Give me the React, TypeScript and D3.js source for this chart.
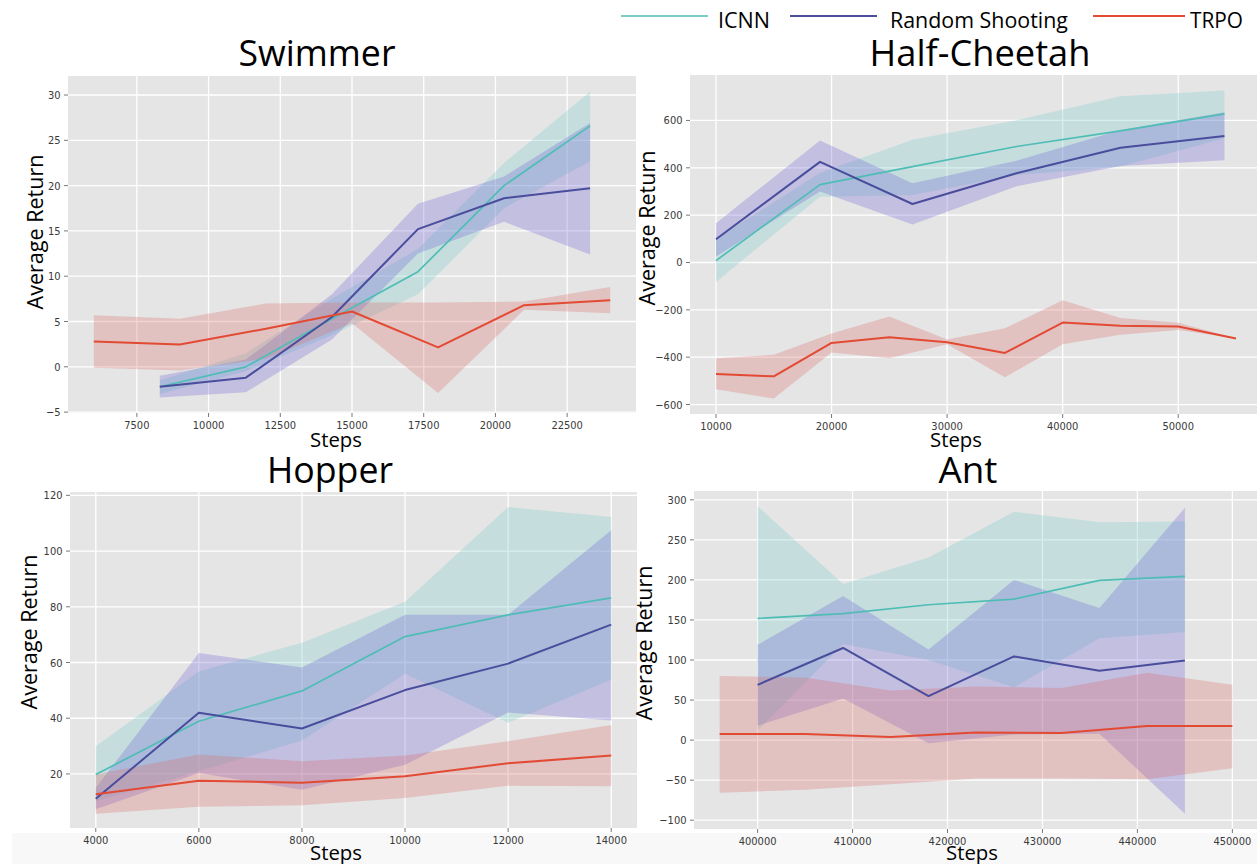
import React from 'react';
import * as d3 from 'd3';

// ---------------- DATA ----------------
const methods = ['ICNN', 'Random Shooting', 'TRPO'];

// Swimmer
const swStepsA = [8300, 11300, 14300, 17300, 20300, 23300];
const swIcnnMean = [-2.2, 0.0, 5.3, 10.5, 20.0, 26.6];
const swIcnnUpper = [-1.5, 1.5, 7.5, 13.0, 22.5, 30.4];
const swIcnnLower = [-3.0, -0.5, 3.5, 8.0, 17.5, 22.7];
const swRsMean = [-2.2, -1.2, 5.5, 15.2, 18.6, 19.7];
const swRsUpper = [-1.0, 0.8, 8.0, 18.0, 21.0, 26.9];
const swRsLower = [-3.4, -2.8, 3.0, 12.5, 16.0, 12.4];
const swStepsT = [6000, 9000, 12000, 15000, 18000, 21000, 24000];
const swTrpoMean = [2.8, 2.45, 4.2, 6.1, 2.15, 6.8, 7.35];
const swTrpoUpper = [5.7, 5.3, 7.0, 7.1, 7.1, 7.2, 8.8];
const swTrpoLower = [-0.1, -0.4, 0.9, 4.8, -2.9, 6.3, 5.9];
const swXTicks = [7500, 10000, 12500, 15000, 17500, 20000, 22500];
const swYTicks = [-5, 0, 5, 10, 15, 20, 25, 30];

// Half-Cheetah
const hcStepsA = [10000, 19000, 27000, 36000, 45000, 54000];
const hcIcnnMean = [8, 329, 405, 490, 556, 628];
const hcIcnnUpper = [100, 378, 519, 601, 702, 727];
const hcIcnnLower = [-82, 278, 285, 370, 405, 525];
const hcRsMean = [98, 425, 247, 377, 485, 534];
const hcRsUpper = [166, 515, 335, 430, 560, 635];
const hcRsLower = [25, 300, 160, 322, 408, 432];
const hcStepsT = [10000, 15000, 20000, 25000, 30000, 35000, 40000, 45000, 50000, 55000];
const hcTrpoMean = [-471, -481, -340, -316, -337, -382, -254, -267, -270, -321];
const hcTrpoUpper = [-405, -390, -300, -228, -325, -278, -160, -235, -255, -321];
const hcTrpoLower = [-535, -575, -380, -405, -345, -485, -345, -305, -285, -321];
const hcXTicks = [10000, 20000, 30000, 40000, 50000];
const hcYTicks = [-600, -400, -200, 0, 200, 400, 600];

// Hopper
const hopSteps = [4000, 6000, 8000, 10000, 12000, 14000];
const hopIcnnMean = [19.8, 38.9, 49.8, 69.3, 77.1, 83.2];
const hopIcnnUpper = [29.9, 56.8, 67.1, 81.8, 115.8, 112.2];
const hopIcnnLower = [10.2, 21.0, 32.0, 56.0, 38.4, 53.9];
const hopRsMean = [11.1, 42.0, 36.3, 50.1, 59.6, 73.6];
const hopRsUpper = [15.0, 63.4, 58.2, 77.1, 77.1, 107.5];
const hopRsLower = [7.3, 20.3, 14.3, 23.3, 42.1, 39.2];
const hopTrpoMean = [12.7, 17.6, 16.8, 19.2, 23.8, 26.6];
const hopTrpoUpper = [19.8, 27.0, 24.6, 26.6, 31.7, 37.6];
const hopTrpoLower = [5.7, 8.2, 8.8, 11.4, 15.8, 15.6];
const hopXTicks = [4000, 6000, 8000, 10000, 12000, 14000];
const hopYTicks = [20, 40, 60, 80, 100, 120];

// Ant
const antStepsA = [400000, 409000, 418000, 427000, 436000, 445000];
const antIcnnMean = [152, 158, 169, 176, 199.5, 204.5];
const antIcnnUpper = [292, 195, 228, 285, 272, 273];
const antIcnnLower = [12, 120, 100, 66, 127, 135];
const antRsMean = [69, 115, 55, 104.5, 86.5, 99.5];
const antRsUpper = [119, 180, 113, 200, 165, 290];
const antRsLower = [18, 52, -4, 7, 8, -92];
const antStepsT = [396000, 405000, 414000, 423000, 432000, 441000, 450000];
const antTrpoMean = [7.5, 7.5, 4, 9.5, 9, 17.5, 17.5];
const antTrpoUpper = [80, 78, 62, 67, 65, 84, 69];
const antTrpoLower = [-65.6, -62, -55, -48, -48, -49, -35];
const antXTicks = [400000, 410000, 420000, 430000, 440000, 450000];
const antYTicks = [-100, -50, 0, 50, 100, 150, 200, 250, 300];

// ---------------- STYLE ----------------
const LINE = ['#4fbdb6', '#4a4d9c', '#e24a33'];
const FILL = ['rgb(122,206,202)', 'rgb(112,102,212)', 'rgb(219,109,109)'];
const FILL_OP = 0.3;
const TXT = "'Open Sans', 'Noto Sans', sans-serif";
const TICKF = "'DejaVu Sans Condensed', 'DejaVu Sans', sans-serif";

type Series = { steps: number[]; mean: number[]; upper: number[]; lower: number[] };

type PanelCfg = {
  id: string;
  title: string;
  titleX: number; titleY: number; titleW: number;
  left: number; right: number; top: number; bottom: number;
  xDomain: [number, number]; yDomain: [number, number];
  xTicks: number[]; yTicks: number[];
  ylabX: number; ylabY: number;
  stepsX: number; stepsY: number;
  series: Series[];
};

const panels: PanelCfg[] = [
  {
    id: 'sw', title: 'Swimmer', titleX: 317, titleY: 66, titleW: 157,
    left: 68, right: 636, top: 76, bottom: 413,
    xDomain: [5100, 24900], yDomain: [-5.1, 32.1],
    xTicks: swXTicks, yTicks: swYTicks,
    ylabX: 36, ylabY: 232, stepsX: 336, stepsY: 447,
    series: [
      { steps: swStepsA, mean: swIcnnMean, upper: swIcnnUpper, lower: swIcnnLower },
      { steps: swStepsA, mean: swRsMean, upper: swRsUpper, lower: swRsLower },
      { steps: swStepsT, mean: swTrpoMean, upper: swTrpoUpper, lower: swTrpoLower },
    ],
  },
  {
    id: 'hc', title: 'Half-Cheetah', titleX: 980, titleY: 66, titleW: 221,
    left: 690, right: 1262, top: 75, bottom: 414,
    xDomain: [7750, 57250], yDomain: [-640, 792],
    xTicks: hcXTicks, yTicks: hcYTicks,
    ylabX: 648, ylabY: 228, stepsX: 956, stepsY: 447,
    series: [
      { steps: hcStepsA, mean: hcIcnnMean, upper: hcIcnnUpper, lower: hcIcnnLower },
      { steps: hcStepsA, mean: hcRsMean, upper: hcRsUpper, lower: hcRsLower },
      { steps: hcStepsT, mean: hcTrpoMean, upper: hcTrpoUpper, lower: hcTrpoLower },
    ],
  },
  {
    id: 'hop', title: 'Hopper', titleX: 330, titleY: 483, titleW: 126,
    left: 70, right: 637, top: 492, bottom: 828,
    xDomain: [3500, 14500], yDomain: [0.6, 121.2],
    xTicks: hopXTicks, yTicks: hopYTicks,
    ylabX: 30, ylabY: 632, stepsX: 336, stepsY: 860,
    series: [
      { steps: hopSteps, mean: hopIcnnMean, upper: hopIcnnUpper, lower: hopIcnnLower },
      { steps: hopSteps, mean: hopRsMean, upper: hopRsUpper, lower: hopRsLower },
      { steps: hopSteps, mean: hopTrpoMean, upper: hopTrpoUpper, lower: hopTrpoLower },
    ],
  },
  {
    id: 'ant', title: 'Ant', titleX: 968, titleY: 483, titleW: 59,
    left: 694, right: 1258, top: 491, bottom: 829,
    xDomain: [393300, 452700], yDomain: [-111, 311],
    xTicks: antXTicks, yTicks: antYTicks,
    ylabX: 645, ylabY: 643, stepsX: 972, stepsY: 860,
    series: [
      { steps: antStepsA, mean: antIcnnMean, upper: antIcnnUpper, lower: antIcnnLower },
      { steps: antStepsA, mean: antRsMean, upper: antRsUpper, lower: antRsLower },
      { steps: antStepsT, mean: antTrpoMean, upper: antTrpoUpper, lower: antTrpoLower },
    ],
  },
];

const fmt = (v: number) => (v < 0 ? '\u2212' + Math.abs(v) : String(v));

function Panel({ cfg }: { cfg: PanelCfg }) {
  const x = d3.scaleLinear().domain(cfg.xDomain).range([cfg.left, cfg.right]);
  const y = d3.scaleLinear().domain(cfg.yDomain).range([cfg.bottom, cfg.top]);
  const idx = (s: Series) => s.steps.map((_, i) => i);
  const areaGen = (s: Series) =>
    d3.area<number>().x((i) => x(s.steps[i])).y0((i) => y(s.lower[i])).y1((i) => y(s.upper[i]))(idx(s)) || '';
  const lineGen = (s: Series) =>
    d3.line<number>().x((i) => x(s.steps[i])).y((i) => y(s.mean[i]))(idx(s)) || '';
  const clipId = 'clip-' + cfg.id;
  return (
    <g>
      <defs>
        <clipPath id={clipId}>
          <rect x={cfg.left} y={cfg.top} width={cfg.right - cfg.left} height={cfg.bottom - cfg.top} />
        </clipPath>
      </defs>
      <rect x={cfg.left} y={cfg.top} width={cfg.right - cfg.left} height={cfg.bottom - cfg.top} fill="#e5e5e5" />
      {cfg.xTicks.map((t) => (
        <line key={'gx' + t} x1={x(t)} x2={x(t)} y1={cfg.top} y2={cfg.bottom} stroke="#ffffff" strokeWidth={1.3} />
      ))}
      {cfg.yTicks.map((t) => (
        <line key={'gy' + t} x1={cfg.left} x2={cfg.right} y1={y(t)} y2={y(t)} stroke="#ffffff" strokeWidth={1.3} />
      ))}
      <g clipPath={`url(#${clipId})`}>
        {cfg.series.map((s, k) => (
          <path key={'a' + k} d={areaGen(s)} fill={FILL[k]} fillOpacity={FILL_OP} stroke="none" />
        ))}
        {cfg.series.map((s, k) => (
          <path key={'l' + k} d={lineGen(s)} fill="none" stroke={LINE[k]} strokeWidth={k === 0 ? 1.7 : 2} strokeLinejoin="round" />
        ))}
      </g>
      {cfg.xTicks.map((t) => (
        <g key={'tx' + t}>
          <line x1={x(t)} x2={x(t)} y1={cfg.bottom} y2={cfg.bottom + 4} stroke="#555" strokeWidth={0.8} />
          <text x={x(t)} y={cfg.bottom + 16} textAnchor="middle" fontFamily={TICKF} fontSize={11} fill="#3a3a3a">
            {fmt(t)}
          </text>
        </g>
      ))}
      {cfg.yTicks.map((t) => (
        <g key={'ty' + t}>
          <line x1={cfg.left - 4} x2={cfg.left} y1={y(t)} y2={y(t)} stroke="#555" strokeWidth={0.8} />
          <text x={cfg.left - 7.5} y={y(t) + 4} textAnchor="end" fontFamily={TICKF} fontSize={11} fill="#3a3a3a">
            {fmt(t)}
          </text>
        </g>
      ))}
      <text x={cfg.titleX} y={cfg.titleY} textAnchor="middle" fontFamily={TXT} fontSize={37}
        textLength={cfg.titleW} lengthAdjust="spacingAndGlyphs" fill="#000">
        {cfg.title}
      </text>
      <text x={cfg.stepsX} y={cfg.stepsY} textAnchor="middle" fontFamily={TXT} fontSize={20}
        textLength={52} lengthAdjust="spacingAndGlyphs" fill="#000">
        Steps
      </text>
      <text transform={`translate(${cfg.ylabX + 7},${cfg.ylabY}) rotate(-90)`} textAnchor="middle" fontFamily={TXT}
        fontSize={21} textLength={155} lengthAdjust="spacingAndGlyphs" fill="#000">
        Average Return
      </text>
    </g>
  );
}

const legendItems = [
  { x1: 621, x2: 708, tx: 718, tw: 52 },
  { x1: 790, x2: 877, tx: 890, tw: 178 },
  { x1: 1093, x2: 1185, tx: 1190, tw: 53 },
];

export default function App() {
  return (
    <svg width={1257} height={864} style={{ position: 'absolute', left: 0, top: 0, background: '#fff' }}>
      <rect x={0} y={0} width={1257} height={864} fill="#ffffff" />
      <rect x={12} y={833} width={1245} height={31} fill="#f8f8f8" />
      {panels.map((p) => (
        <Panel key={p.id} cfg={p} />
      ))}
      {methods.map((m, k) => (
        <g key={m}>
          <line x1={legendItems[k].x1} x2={legendItems[k].x2} y1={16} y2={16} stroke={LINE[k]} strokeWidth={2}
            strokeOpacity={k === 0 ? 0.75 : 1} />
          <text x={legendItems[k].tx} y={28} fontFamily={TXT} fontSize={22} textLength={legendItems[k].tw}
            lengthAdjust="spacingAndGlyphs" fill="#000">
            {m}
          </text>
        </g>
      ))}
    </svg>
  );
}
